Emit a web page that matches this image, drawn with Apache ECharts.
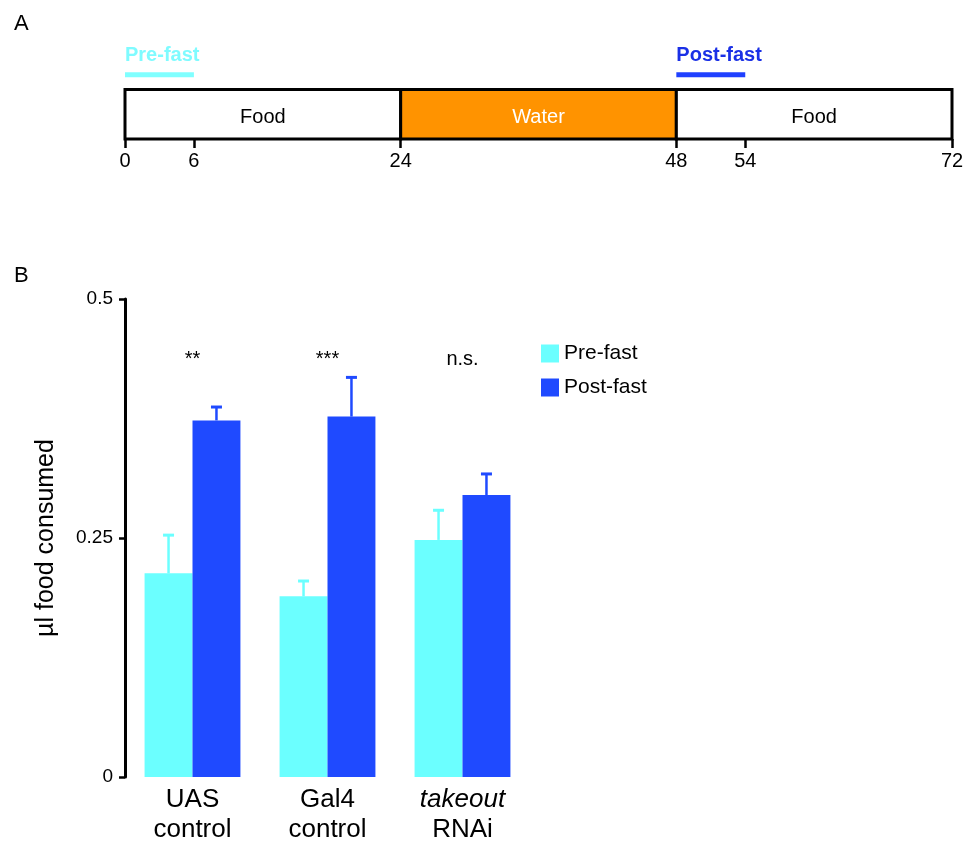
<!DOCTYPE html>
<html>
<head>
<meta charset="utf-8">
<script src="https://cdn.jsdelivr.net/npm/echarts@6/dist/echarts.min.js"></script>
<style>
html, body { margin: 0; padding: 0; background: #ffffff; }
#chart { width: 969px; height: 841px; }
</style>
</head>
<body>
<div id="chart"></div>
<script>
// ---------- Data ----------
// Panel A: experimental timeline (hours)
const segStart = [0, 24, 48];
const segEnd = [24, 48, 72];
const segLabel = ['Food', 'Water', 'Food'];
const timeTicks = [0, 6, 24, 48, 54, 72];
const windowStart = [0, 48];
const windowEnd = [6, 54];
const windowLabel = ['Pre-fast', 'Post-fast'];

// Panel B: food consumption
const categories = ['UAS\ncontrol', 'Gal4\ncontrol', 'takeout\nRNAi'];
const italicWords = ['takeout'];
const preFast = [0.213, 0.189, 0.248];
const postFast = [0.373, 0.377, 0.295];
const preFastErr = [0.040, 0.016, 0.031];
const postFastErr = [0.014, 0.041, 0.022];
const significance = ['**', '***', 'n.s.'];
const yTicks = [0, 0.25, 0.5];

// ---------- Chart ----------
const FONT = 'Liberation Sans, Arial, Helvetica, sans-serif';
const CYAN = '#6bffff';
const BLUE = '#1f4aff';
const ORANGE = '#ff9300';
const CAT_GAP = 0.29;

const chart = echarts.init(document.getElementById('chart'), null, { renderer: 'canvas' });

function errorRenderer(side, color) {
  return function (params, api) {
    const i = api.value(0);
    const v = api.value(1);
    const e = api.value(2);
    const band = api.size([1, 0])[0];
    const off = side * band * (1 - CAT_GAP) / 4;
    const base = api.coord([i, v]);
    const top = api.coord([i, v + e]);
    const x = base[0] + off;
    return {
      type: 'group',
      children: [
        { type: 'line', shape: { x1: x, y1: base[1], x2: x, y2: top[1] },
          style: { stroke: color, lineWidth: 2.5 } },
        { type: 'line', shape: { x1: x - 5.5, y1: top[1], x2: x + 5.5, y2: top[1] },
          style: { stroke: color, lineWidth: 3 } }
      ]
    };
  };
}

const option = {
  animation: false,
  backgroundColor: '#ffffff',
  textStyle: { fontFamily: FONT, color: '#000' },
  title: [
    { text: 'A', left: 9, top: 8, textStyle: { fontFamily: FONT, fontSize: 22, fontWeight: 'normal', color: '#000' } },
    { text: 'B', left: 9, top: 260, textStyle: { fontFamily: FONT, fontSize: 22, fontWeight: 'normal', color: '#000' } }
  ],
  legend: {
    data: ['Pre-fast', 'Post-fast'],
    orient: 'vertical',
    left: 541,
    top: 343,
    padding: 0,
    itemWidth: 18,
    itemHeight: 18,
    itemGap: 13,
    icon: 'rect',
    textStyle: { fontFamily: FONT, fontSize: 21, color: '#000' }
  },
  grid: [
    { left: 125, right: 17, top: 40, height: 99, containLabel: false, outerBoundsMode: 'none' },
    { left: 125, top: 299, width: 405, height: 478, containLabel: false, outerBoundsMode: 'none' }
  ],
  xAxis: [
    {
      gridIndex: 0, type: 'value', min: 0, max: 72,
      axisLine: { show: false },
      splitLine: { show: false },
      axisTick: { show: true, customValues: timeTicks, length: 9, lineStyle: { color: '#000', width: 2.5 } },
      axisLabel: { show: true, customValues: timeTicks, margin: 12, fontSize: 20, fontFamily: FONT, color: '#000' }
    },
    {
      gridIndex: 1, type: 'category', data: categories,
      axisLine: { show: false },
      axisTick: { show: false },
      axisLabel: {
        interval: 0, hideOverlap: false,
        margin: 8, fontSize: 26, lineHeight: 30, fontFamily: FONT, color: '#000',
        formatter: function (val) {
          return val.split('\n').map(function (part) {
            return italicWords.indexOf(part) >= 0 ? '{it|' + part + '}' : part;
          }).join('\n');
        },
        rich: { it: { fontStyle: 'italic', fontSize: 26, lineHeight: 30, fontFamily: FONT, color: '#000' } }
      }
    }
  ],
  yAxis: [
    { gridIndex: 0, type: 'value', min: 0, max: 1, show: false },
    {
      gridIndex: 1, type: 'value',
      min: yTicks[0], max: yTicks[yTicks.length - 1], interval: yTicks[1] - yTicks[0],
      name: 'µl food consumed', nameLocation: 'middle', nameGap: 66,
      nameTextStyle: { fontFamily: FONT, fontSize: 25, color: '#000' },
      axisLine: { show: true, lineStyle: { color: '#000', width: 3 } },
      axisTick: { show: true, length: 6, lineStyle: { color: '#000', width: 2.5 } },
      axisLabel: { margin: 12, fontSize: 19, fontFamily: FONT, color: '#000' },
      splitLine: { show: false }
    }
  ],
  series: [
    {
      type: 'custom', xAxisIndex: 0, yAxisIndex: 0, silent: true, clip: false,
      data: segStart.map(function (s, i) { return [s, segEnd[i], i]; }),
      renderItem: function (params, api) {
        const idx = api.value(2);
        const label = segLabel[idx];
        const p0 = api.coord([api.value(0), 0]);
        const p1 = api.coord([api.value(1), 0.5]);
        const isWater = label === 'Water';
        return {
          type: 'group',
          children: [
            { type: 'rect', shape: { x: p0[0], y: p1[1], width: p1[0] - p0[0], height: p0[1] - p1[1] },
              style: { fill: isWater ? ORANGE : '#ffffff', stroke: '#000', lineWidth: 3 } },
            { type: 'text', style: { text: label, x: (p0[0] + p1[0]) / 2, y: (p0[1] + p1[1]) / 2 + 3,
              align: 'center', verticalAlign: 'middle', fill: isWater ? '#ffffff' : '#000',
              fontSize: 20, fontFamily: FONT } }
          ]
        };
      }
    },
    {
      type: 'custom', xAxisIndex: 0, yAxisIndex: 0, silent: true, clip: false,
      data: windowStart.map(function (s, i) { return [s, windowEnd[i], i]; }),
      renderItem: function (params, api) {
        const idx = api.value(2);
        const p0 = api.coord([api.value(0), 0.65]);
        const p1 = api.coord([api.value(1), 0.65]);
        const t = api.coord([api.value(0), 0.84]);
        const lineColor = idx === 0 ? '#80ffff' : '#1f40ff';
        const textColor = idx === 0 ? '#7ffbff' : '#1a30e6';
        return {
          type: 'group',
          children: [
            { type: 'rect', shape: { x: p0[0], y: p0[1] - 2.5, width: p1[0] - p0[0], height: 5 },
              style: { fill: lineColor } },
            { type: 'text', style: { text: windowLabel[idx], x: t[0], y: t[1],
              align: 'left', verticalAlign: 'middle', fill: textColor,
              fontSize: 20, fontWeight: 'bold', fontFamily: FONT } }
          ]
        };
      }
    },
    {
      name: 'Pre-fast', type: 'bar', xAxisIndex: 1, yAxisIndex: 1,
      data: preFast, barGap: '0%', barCategoryGap: (CAT_GAP * 100) + '%',
      itemStyle: { color: CYAN }, emphasis: { disabled: true }
    },
    {
      name: 'Post-fast', type: 'bar', xAxisIndex: 1, yAxisIndex: 1,
      data: postFast, barGap: '0%', barCategoryGap: (CAT_GAP * 100) + '%',
      itemStyle: { color: BLUE }, emphasis: { disabled: true }
    },
    {
      type: 'custom', xAxisIndex: 1, yAxisIndex: 1, silent: true, clip: false,
      data: preFast.map(function (v, i) { return [i, v, preFastErr[i]]; }),
      renderItem: errorRenderer(-1, CYAN)
    },
    {
      type: 'custom', xAxisIndex: 1, yAxisIndex: 1, silent: true, clip: false,
      data: postFast.map(function (v, i) { return [i, v, postFastErr[i]]; }),
      renderItem: errorRenderer(1, BLUE)
    },
    {
      type: 'custom', xAxisIndex: 1, yAxisIndex: 1, silent: true, clip: false,
      data: significance.map(function (s, i) { return [i, 0.437, i]; }),
      renderItem: function (params, api) {
        const p = api.coord([api.value(0), api.value(1)]);
        return { type: 'text', style: { text: significance[api.value(2)], x: p[0], y: p[1],
          align: 'center', verticalAlign: 'middle', fill: '#000', fontSize: 20, fontFamily: FONT } };
      }
    }
  ]
};

chart.setOption(option);
</script>
</body>
</html>
